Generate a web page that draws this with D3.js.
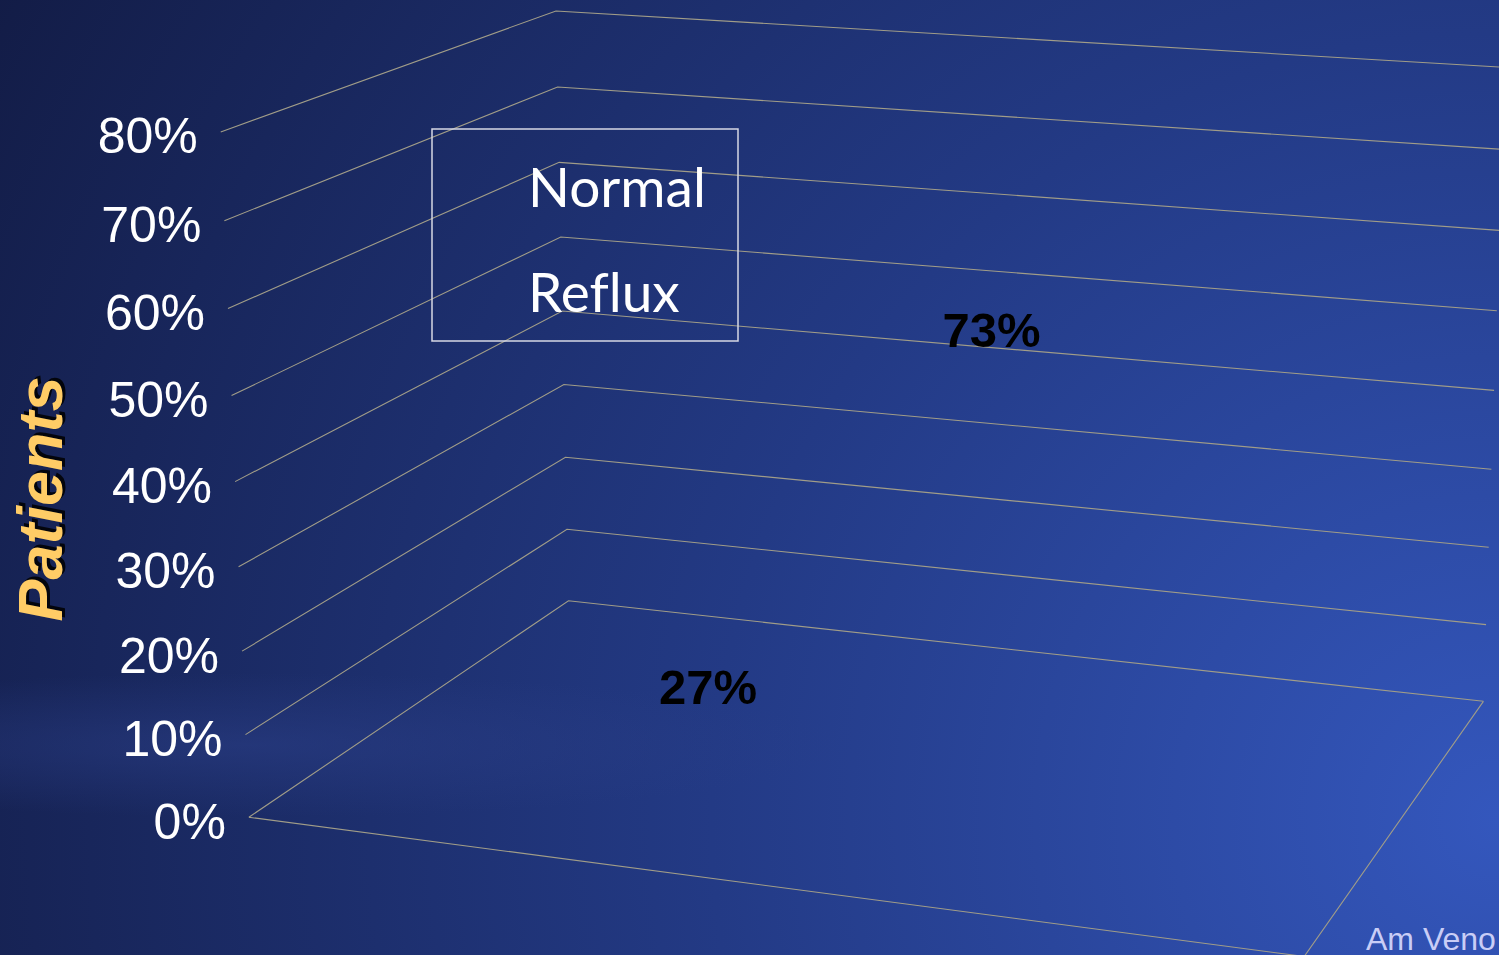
<!DOCTYPE html>
<html><head><meta charset="utf-8">
<script src="https://cdn.jsdelivr.net/npm/d3@7"></script>
<style>html,body{margin:0;padding:0;background:#141e48;overflow:hidden}</style>
</head><body><svg id="c" width="1499" height="955"></svg>
<script>
const series = ["Normal", "Reflux"];
const values = [0.27, 0.73];
const yTicks = [0, 0.1, 0.2, 0.3, 0.4, 0.5, 0.6, 0.7, 0.8];
const axisTitle = "Patients";
const sourceText = "Am Veno";

const W = 1499, H = 955;
// projected corners of the 3D plot box (world X: width, Y: height, Z: depth, each 0..1)
const anchors = [
  [[0, 0, 0], [249, 817]], [[0, 0, 1], [568, 601]], [[1, 0, 1], [1483, 702]], [[1, 0, 0], [1305, 956]],
  [[0, 1, 0], [220, 133]], [[0, 1, 1], [556, 10]],
  [[0, 0.5, 0], [235, 481]], [[0, 0.5, 1], [563, 311]],
  [[0, 0.25, 0], [241, 651]], [[0, 0.25, 1], [566, 457]],
  [[0, 0.75, 0], [229, 309]], [[0, 0.75, 1], [559, 163]],
  [[1, 1, 1], [1505, 67]], [[1, 0.5, 1], [1494, 390.5]]
];
function fitCamera(an) {
  const s = 750, cx = 750, cy = 477, n = 11, A = [], b = [];
  an.forEach(([[X, Y, Z], [u, v]]) => {
    const un = (u - cx) / s, vn = (v - cy) / s;
    A.push([X, Y, Z, 1, 0, 0, 0, 0, -un * X, -un * Y, -un * Z]); b.push(un);
    A.push([0, 0, 0, 0, X, Y, Z, 1, -vn * X, -vn * Y, -vn * Z]); b.push(vn);
  });
  const M = [...Array(n)].map(() => new Array(n + 1).fill(0));
  for (let r = 0; r < A.length; r++) for (let i = 0; i < n; i++) {
    for (let j = 0; j < n; j++) M[i][j] += A[r][i] * A[r][j];
    M[i][n] += A[r][i] * b[r];
  }
  for (let i = 0; i < n; i++) {
    let pv = i; for (let k = i + 1; k < n; k++) if (Math.abs(M[k][i]) > Math.abs(M[pv][i])) pv = k;
    [M[i], M[pv]] = [M[pv], M[i]];
    for (let k = i + 1; k < n; k++) { const f = M[k][i] / M[i][i]; for (let j = i; j <= n; j++) M[k][j] -= f * M[i][j]; }
  }
  const x = new Array(n);
  for (let i = n - 1; i >= 0; i--) { let t = M[i][n]; for (let j = i + 1; j < n; j++) t -= M[i][j] * x[j]; x[i] = t / M[i][i]; }
  return { p: x, s, cx, cy };
}
const cam = fitCamera(anchors);
function project(X, Y, Z) {
  const p = cam.p, w = p[8] * X + p[9] * Y + p[10] * Z + 1;
  return [(p[0] * X + p[1] * Y + p[2] * Z + p[3]) / w * cam.s + cam.cx, (p[4] * X + p[5] * Y + p[6] * Z + p[7]) / w * cam.s + cam.cy];
}

const yScale = d3.scaleLinear().domain([0, 0.8]).range([0, 1]);
const xScale = d3.scalePoint().domain(series).range([0.504, 0.806]);
const zScale = d3.scaleOrdinal().domain(series).range([-0.15, -0.36]);
const fmt = d3.format(".0%");

const svg = d3.select("#c");
const defs = svg.append("defs");
const rg = defs.append("radialGradient").attr("id", "bg").attr("gradientUnits", "userSpaceOnUse")
  .attr("cx", 1499).attr("cy", 820).attr("r", 1750);
rg.append("stop").attr("offset", 0).attr("stop-color", "#3457bd");
rg.append("stop").attr("offset", 0.45).attr("stop-color", "#233a85");
rg.append("stop").attr("offset", 1).attr("stop-color", "#121b44");
const band = defs.append("radialGradient").attr("id", "band").attr("gradientUnits", "userSpaceOnUse")
  .attr("cx", 250).attr("cy", 745).attr("r", 600).attr("gradientTransform", "translate(250,745) scale(1,0.12) translate(-250,-745)");
band.append("stop").attr("offset", 0).attr("stop-color", "#2b3f88").attr("stop-opacity", 0.55);
band.append("stop").attr("offset", 1).attr("stop-color", "#2b3f88").attr("stop-opacity", 0);
svg.append("rect").attr("width", W).attr("height", H).attr("fill", "url(#bg)");
svg.append("rect").attr("width", W).attr("height", H).attr("fill", "url(#band)");

const grid = svg.append("g").attr("stroke", "#a19d88").attr("stroke-width", 1.1).attr("fill", "none");
const line = d3.line();
yTicks.forEach(t => {
  const Y = yScale(t);
  grid.append("path").attr("d", line([project(0, Y, 0), project(0, Y, 1), project(1, Y, 1)]));
});
grid.append("path").attr("d", line([project(0, 0, 0), project(1, 0, 0), project(1, 0, 1)]));

svg.append("g").selectAll("text").data(yTicks).join("text")
  .attr("x", d => project(0, yScale(d), 0)[0] - 23)
  .attr("y", d => project(0, yScale(d), 0)[1] + 4)
  .attr("dy", "0.35em").attr("text-anchor", "end")
  .attr("font-family", "Liberation Sans, Arial, sans-serif").attr("font-size", 50).attr("fill", "#ffffff")
  .text(d => fmt(d));

const tg = svg.append("g").attr("transform", "translate(62,496) rotate(-90)")
  .attr("font-family", "Liberation Sans, Arial, sans-serif").attr("font-size", 63)
  .attr("font-weight", "bold").attr("font-style", "italic").attr("text-anchor", "middle");
tg.append("text").attr("x", 0).attr("y", 3).attr("fill", "#000000").attr("fill-opacity", 0.85).text(axisTitle);
tg.append("text").attr("x", -3).attr("y", 0).attr("fill", "#ffcc66").text(axisTitle);

// legend
const lg = svg.append("g");
lg.append("rect").attr("x", 432).attr("y", 129).attr("width", 306).attr("height", 212)
  .attr("fill", "none").attr("stroke", "#d6d8e4").attr("stroke-width", 1.5);
lg.selectAll("text").data(series).join("text")
  .attr("x", 528).attr("y", (d, i) => 207 + i * 105)
  .attr("font-family", "Lato, sans-serif").attr("font-size", 55).attr("fill", "#ffffff")
  .style("font-variant-ligatures", "none").text(d => d);

// data labels
svg.append("g").selectAll("text").data(values).join("text")
  .attr("x", (d, i) => project(xScale(series[i]), yScale(d), zScale(series[i]))[0])
  .attr("y", (d, i) => project(xScale(series[i]), yScale(d), zScale(series[i]))[1])
  .attr("dy", "0.35em").attr("text-anchor", "middle")
  .attr("font-family", "Liberation Sans, Arial, sans-serif").attr("font-weight", "bold").attr("font-size", 49)
  .attr("fill", "#000000").text(d => fmt(d));

svg.append("text").attr("x", 1366).attr("y", 950)
  .attr("font-family", "Liberation Sans, Arial, sans-serif").attr("font-size", 32).attr("fill", "#c9cdf6").text(sourceText);
</script></body></html>
